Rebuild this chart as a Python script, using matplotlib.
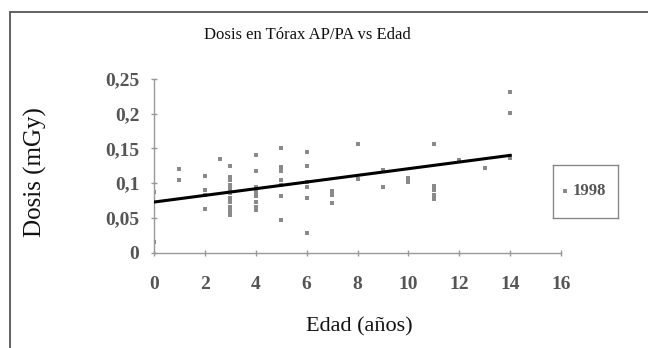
import numpy as np
import matplotlib.pyplot as plt
from matplotlib.patches import Rectangle

# Edad (años) y dosis medida (mGy), tórax AP/PA, 1998
edad = [0, 0,
        1, 1,
        2, 2, 2, 2,
        2.6,
        3, 3, 3, 3, 3, 3, 3, 3, 3, 3, 3,
        4, 4, 4, 4, 4, 4, 4, 4,
        5, 5, 5, 5, 5, 5, 5,
        6, 6, 6, 6, 6, 6,
        7, 7, 7,
        8, 8,
        9, 9,
        10, 10,
        11, 11, 11, 11, 11,
        12,
        13,
        14, 14, 14, 14]
dosis = [0.088, 0.016,
         0.121, 0.105,
         0.110, 0.090, 0.083, 0.063,
         0.135,
         0.125, 0.109, 0.104, 0.098, 0.091, 0.086, 0.079, 0.073, 0.066, 0.060, 0.054,
         0.141, 0.117, 0.095, 0.088, 0.081, 0.073, 0.066, 0.062,
         0.151, 0.123, 0.117, 0.105, 0.098, 0.082, 0.047,
         0.145, 0.125, 0.102, 0.095, 0.078, 0.029,
         0.089, 0.083, 0.071,
         0.157, 0.106,
         0.119, 0.094,
         0.107, 0.102,
         0.157, 0.096, 0.090, 0.083, 0.077,
         0.134,
         0.122,
         0.232, 0.201, 0.139, 0.137]

x_ticks = [0, 2, 4, 6, 8, 10, 12, 14, 16]
y_ticks = [0, 0.05, 0.1, 0.15, 0.2, 0.25]
y_labels = ['0', '0,05', '0,1', '0,15', '0,2', '0,25']

plt.rcParams['font.family'] = 'Liberation Serif'

fig = plt.figure(figsize=(6.48, 3.48), dpi=100)
# marco exterior del gráfico
fig.patches.append(Rectangle((10 / 648, -0.2), 1.2, 1.2 - 12 / 348,
                             transform=fig.transFigure, fill=False,
                             edgecolor='#555555', linewidth=1.3))

ax = fig.add_axes([0.2377, 0.2739, 0.628, 0.4991])
ax.set_xlim(0, 16)
ax.set_ylim(0, 0.25)

ax.scatter(edad, dosis, marker='s', s=12, color='#8a8a8a', linewidths=0, zorder=2)

# recta de tendencia lineal
b, a = np.polyfit(edad, dosis, 1)
xs = np.array([0, 14])
ax.plot(xs, a + b * xs, color='black', linewidth=2.2, zorder=3)

for s in ['top', 'right']:
    ax.spines[s].set_visible(False)
for s in ['left', 'bottom']:
    ax.spines[s].set_color('#999999')
    ax.spines[s].set_linewidth(1.0)

ax.set_xticks(x_ticks)
ax.set_xticklabels([str(t) for t in x_ticks])
ax.set_yticks(y_ticks)
ax.set_yticklabels(y_labels)
ax.tick_params(direction='inout', length=5, color='#999999', width=1.0,
               labelsize=14, labelcolor='#555555')
ax.tick_params(axis='x', pad=14)
ax.tick_params(axis='y', pad=8)
for lab in ax.get_xticklabels() + ax.get_yticklabels():
    lab.set_fontweight('bold')

fig.text(307 / 648, 1 - 35 / 348, 'Dosis en Tórax AP/PA vs Edad', ha='center',
         va='center', fontsize=12, color='#111111')
fig.text(359 / 648, 1 - 327 / 348, 'Edad (años)', ha='center', va='center',
         fontsize=16, color='#111111')
fig.text(35 / 648, 1 - 172 / 348, 'Dosis (mGy)', ha='center', va='center',
         rotation=90, fontsize=18, color='#111111')

# leyenda
leg_ax = fig.add_axes([553 / 648, 1 - 218 / 348, 65 / 648, 53 / 348])
leg_ax.set_xticks([])
leg_ax.set_yticks([])
for s in leg_ax.spines.values():
    s.set_color('#888888')
    s.set_linewidth(1.0)
leg_ax.set_xlim(0, 1)
leg_ax.set_ylim(0, 1)
leg_ax.scatter([0.18], [0.5], marker='s', s=12, color='#8a8a8a', linewidths=0)
leg_ax.text(0.3, 0.5, '1998', ha='left', va='center', fontsize=12,
            fontweight='bold', color='#555555')

fig.savefig('out.png', dpi=100)
